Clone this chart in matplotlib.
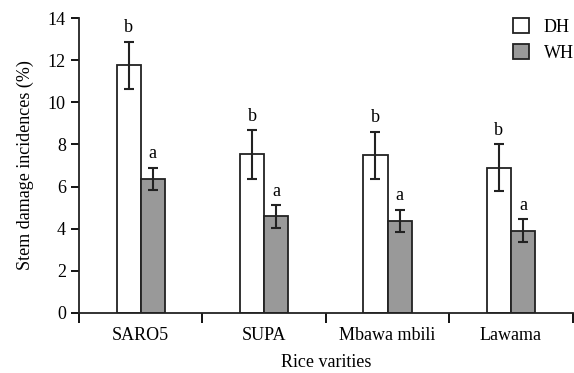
import numpy as np
import matplotlib
matplotlib.use("Agg")
import matplotlib.pyplot as plt

varieties = ["SARO5", "SUPA", "Mbawa mbili", "Lawama"]
dh_mean = [11.75, 7.53, 7.48, 6.90]
dh_err = [1.13, 1.15, 1.13, 1.12]
wh_mean = [6.36, 4.58, 4.38, 3.91]
wh_err = [0.54, 0.55, 0.53, 0.53]
dh_letters = ["b", "b", "b", "b"]
wh_letters = ["a", "a", "a", "a"]

plt.rcParams["font.family"] = ["Liberation Serif", "DejaVu Serif"]
FS = 13

fig = plt.figure(figsize=(5.74, 3.73), dpi=100)
ax = fig.add_axes([0.1376, 0.1609, 0.860, 0.7908])

x = np.arange(len(varieties)) + 0.5
w = 0.195
ekw = dict(elinewidth=1.5, capthick=1.5, capsize=3.8, ecolor="#222222")
ax.bar(x - w / 2, dh_mean, w, yerr=dh_err, color="white", edgecolor="#222222",
       lw=1.3, error_kw=ekw, label="DH", zorder=2)
ax.bar(x + w / 2, wh_mean, w, yerr=wh_err, color="#999999", edgecolor="#222222",
       lw=1.3, error_kw=ekw, label="WH", zorder=2)

for xi, m, e, t in zip(x - w / 2, dh_mean, dh_err, dh_letters):
    ax.text(xi, m + e + 0.25, t, ha="center", va="bottom", fontsize=FS)
for xi, m, e, t in zip(x + w / 2, wh_mean, wh_err, wh_letters):
    ax.text(xi, m + e + 0.25, t, ha="center", va="bottom", fontsize=FS)

ax.set_xlim(0, 4)
ax.set_ylim(0, 14)
ax.set_yticks(range(0, 15, 2))
ax.set_xticks(x)
ax.set_xticklabels(varieties)
ax.set_xticks(np.arange(0, 5), minor=True)
ax.tick_params(axis="x", which="major", length=0, pad=10, labelsize=FS)
ax.tick_params(axis="x", which="minor", length=7, width=1.3, direction="out")
ax.tick_params(axis="y", length=6, width=1.3, direction="out", labelsize=FS)
for s in ["top", "right"]:
    ax.spines[s].set_visible(False)
for s in ["left", "bottom"]:
    ax.spines[s].set_linewidth(1.3)
    ax.spines[s].set_color("#222222")

ax.set_xlabel("Rice varities", fontsize=FS, labelpad=7)
ax.set_ylabel("Stem damage incidences (%)", fontsize=FS, labelpad=10)

leg = ax.legend(loc="upper right", bbox_to_anchor=(1.035, 1.055), frameon=False,
                fontsize=FS, handlelength=0.9, handleheight=0.9,
                handletextpad=0.8, labelspacing=0.45)

fig.savefig("out.png", dpi=100)
